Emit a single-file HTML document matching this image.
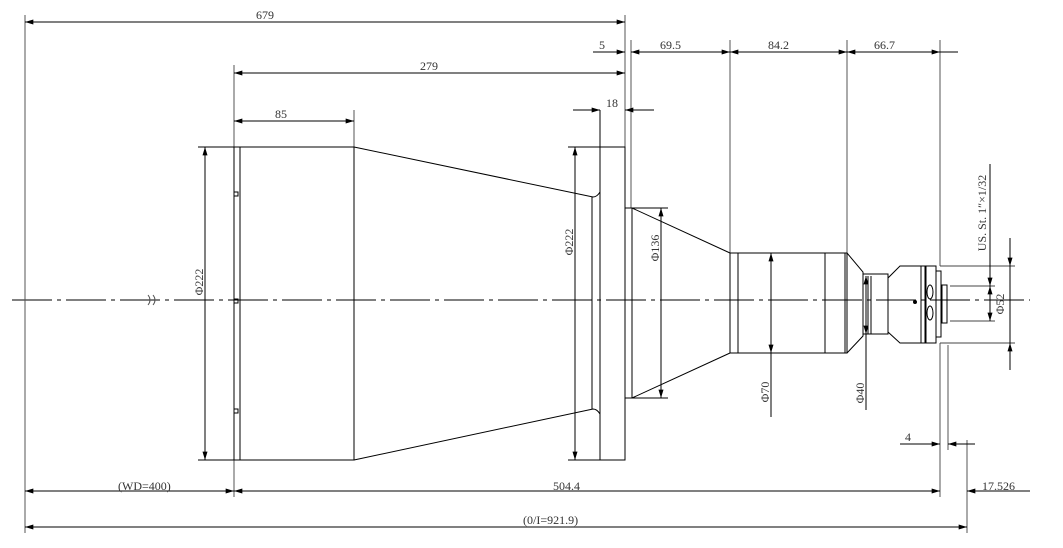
<!DOCTYPE html>
<html><head><meta charset="utf-8"><style>
html,body{margin:0;padding:0;background:#fff;}
svg{display:block}
text{font-family:"Liberation Serif","Noto Serif CJK SC",serif;font-size:12px;fill:#333}
</style></head><body>
<svg width="1063" height="548" viewBox="0 0 1063 548" xmlns="http://www.w3.org/2000/svg">
<defs>
<marker id="a" viewBox="0 0 10 6" refX="10" refY="3" markerWidth="12" markerHeight="5" orient="auto-start-reverse" markerUnits="userSpaceOnUse"><path d="M0,0L10,3L0,6z" fill="#000"/></marker>
</defs>
<g stroke="#000" stroke-width="1" fill="none">
<path d="M12,300H1030" stroke-dasharray="40,5,4,5"/>
<path d="M25,15V533M625,15V147M631,40V208M730,40V253M847,40V253M940,40V266M940,343V497M948,345V450M967,440V533M234,65V147M234,460V497M354,110V147" stroke="#555"/>
<path d="M25,22H625" marker-start="url(#a)" marker-end="url(#a)"/>
<path d="M234,73H625" marker-start="url(#a)" marker-end="url(#a)"/>
<path d="M234,121H354" marker-start="url(#a)" marker-end="url(#a)"/>
<path d="M593,52H625" marker-end="url(#a)"/>
<path d="M631,52H730" marker-start="url(#a)" marker-end="url(#a)"/>
<path d="M730,52H847" marker-start="url(#a)" marker-end="url(#a)"/>
<path d="M847,52H940" marker-start="url(#a)" marker-end="url(#a)"/>
<path d="M940,52H958"/>
<path d="M573,110H600M625,110H654"/>
<path d="M580,110H600" marker-end="url(#a)"/><path d="M645,110H625" marker-end="url(#a)"/>
<path d="M600,110V147"/>
<path d="M25,491H234" marker-start="url(#a)" marker-end="url(#a)"/>
<path d="M234,491H940" marker-start="url(#a)" marker-end="url(#a)"/>
<path d="M1030,491H967" marker-end="url(#a)"/>
<path d="M25,527H967" marker-start="url(#a)" marker-end="url(#a)"/>
<path d="M900,444H940" marker-end="url(#a)"/><path d="M975,444H948" marker-end="url(#a)"/>
<rect x="234" y="147" width="6" height="313"/>
<rect x="240" y="147" width="114" height="313"/>
<rect x="234" y="192" width="4" height="4"/><rect x="234" y="299" width="4" height="4"/><rect x="234" y="409" width="4" height="4"/>
<path d="M354,147L593,197Q597,197 600,192M354,460L593,409Q597,409 600,414M592,197V409"/>
<rect x="600" y="147" width="25" height="313"/>
<rect x="625" y="208" width="7" height="190"/>
<path d="M632,208L730,253M632,398L730,353"/>
<rect x="730" y="253" width="117" height="100"/>
<path d="M738,253V353M825,253V353M845,253V353"/>
<path d="M847,253L863,272V336L847,353"/>
<rect x="863" y="274" width="25" height="60"/>
<path d="M888,278L900,266H925V343H900L888,332"/>
<path d="M921,266V343"/>
<rect x="926" y="266" width="10" height="77"/>
<rect x="936" y="271" width="5" height="66"/>
<rect x="942" y="285" width="5" height="38"/>
<ellipse cx="930" cy="292" rx="3" ry="7"/><ellipse cx="930" cy="313" rx="3" ry="7"/>
<circle cx="915" cy="302" r="1.5" fill="#000"/>
<path d="M868,276V334M871,276V334"/>
<path d="M940,266H1015M940,343H1015M950,286H995M950,321H995" stroke="#444"/>
<path d="M1010,238V266" marker-end="url(#a)"/><path d="M1010,370V343" marker-end="url(#a)"/>
<path d="M1010,266V343"/>
<path d="M990,164V286" marker-end="url(#a)"/><path d="M990,286V321" marker-start="url(#a)" marker-end="url(#a)"/>
<path d="M205,147V460" marker-start="url(#a)" marker-end="url(#a)"/><path d="M198,147H234M198,460H234"/>
<path d="M575,147V460" marker-start="url(#a)" marker-end="url(#a)"/><path d="M568,147H600M568,460H600"/>
<path d="M661,208V398" marker-start="url(#a)" marker-end="url(#a)"/><path d="M632,208H668M632,398H668"/>
<path d="M771,253V353" marker-start="url(#a)" marker-end="url(#a)"/><path d="M771,353V417"/>
<path d="M866,276V334" marker-start="url(#a)" marker-end="url(#a)"/><path d="M866,334V410"/>
<path d="M148,295Q152,300 148,305M153,295Q157,300 153,305" stroke="#555"/>
</g>
<text x="256" y="19">679</text>
<text x="420" y="70">279</text>
<text x="275" y="118">85</text>
<text x="599" y="49">5</text>
<text x="660" y="49">69.5</text>
<text x="768" y="49">84.2</text>
<text x="874" y="49">66.7</text>
<text x="606" y="107">18</text>
<text x="118" y="490">(WD=400)</text>
<text x="553" y="490">504.4</text>
<text x="982" y="490">17.526</text>
<text x="523" y="524">(0/I=921.9)</text>
<text x="905" y="441">4</text>
<text transform="translate(203,282) rotate(-90)" text-anchor="middle">Φ222</text>
<text transform="translate(573,242) rotate(-90)" text-anchor="middle">Φ222</text>
<text transform="translate(659,248) rotate(-90)" text-anchor="middle">Φ136</text>
<text transform="translate(769,392) rotate(-90)" text-anchor="middle">Φ70</text>
<text transform="translate(864,393) rotate(-90)" text-anchor="middle">Φ40</text>
<text transform="translate(1004,304) rotate(-90)" text-anchor="middle">Φ52</text>
<text transform="translate(986,213) rotate(-90)" text-anchor="middle">US. St. 1″×1/32</text>
</svg>
</body></html>
